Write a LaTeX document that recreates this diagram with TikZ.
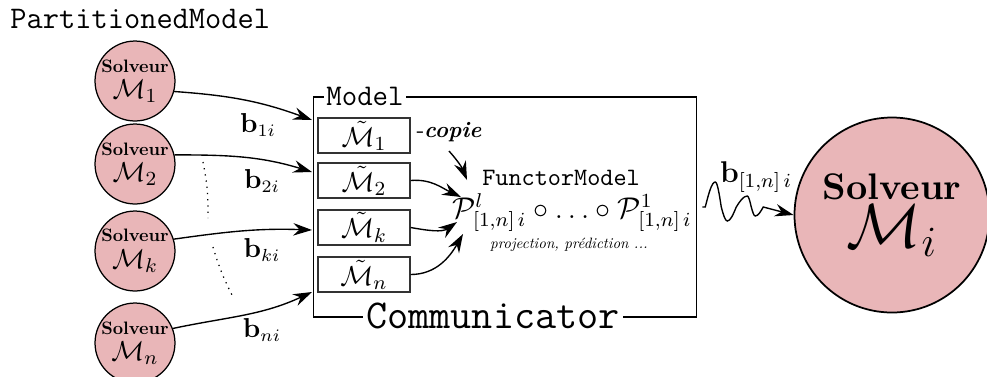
\documentclass[tikz,border=0pt]{standalone}
\usetikzlibrary{arrows.meta,calc}
\definecolor{solvfill}{RGB}{233,182,184}
\begin{document}
\begin{tikzpicture}[x=0.4pt,y=-0.4pt,
  solv/.style={circle,draw,fill=solvfill,line width=0.5pt,inner sep=0pt,minimum size=30.4pt,align=center},
  bigsolv/.style={circle,draw,fill=solvfill,line width=0.7pt,inner sep=0pt,minimum size=78pt,align=center},
  mbox/.style={draw=black!80,line width=0.5pt,minimum width=36.8pt,minimum height=14pt,inner sep=0pt},
  conn/.style={line width=0.55pt,-{Stealth[length=7.5pt,width=5pt,inset=2.5pt]}},
  blab/.style={font=\fontsize{10.5}{12}\selectfont},
  ttlab/.style={font=\ttfamily\fontsize{12}{14}\selectfont}]
\useasboundingbox (0,0) rectangle (987,376);
\newcommand{\solvsmall}[1]{\scalebox{0.72}{\bfseries Solveur}\\[-1.5pt]{\fontsize{11}{12}\selectfont$\mathcal{M}_{#1}$}}

% title
\node[font=\ttfamily\fontsize{12.6}{14}\selectfont, anchor=west, inner sep=0pt] (title) at (10,19) {PartitionedModel};

% solver circles
\node[solv] (m1) at (135,81) {\solvsmall{1}};
\node[solv] (m2) at (135,164) {\solvsmall{2}};
\node[solv] (mk) at (135,251) {\solvsmall{k}};
\node[solv] (mn) at (135,343) {\solvsmall{n}};

% main frame
\node[draw, line width=0.6pt, minimum width=153.2pt, minimum height=88pt, inner sep=0pt] (comm) at (505,207) {};
\node[ttlab, fill=white, inner sep=1pt] (modellab) at (365,96) {Model};
\node[font=\ttfamily\fontsize{16.4}{18}\selectfont, fill=white, inner sep=1.5pt] (commlab) at (493,316) {Communicator};

% inner model copies
\node[mbox] (t1) at (364,135.5) {\fontsize{11}{12}\selectfont$\tilde{\mathcal{M}}_1$};
\node[mbox] (t2) at (364,180.5) {\fontsize{11}{12}\selectfont$\tilde{\mathcal{M}}_2$};
\node[mbox] (tk) at (364,227.5) {\fontsize{11}{12}\selectfont$\tilde{\mathcal{M}}_k$};
\node[mbox] (tn) at (364,274.5) {\fontsize{11}{12}\selectfont$\tilde{\mathcal{M}}_n$};

% entry points on the frame
\coordinate (e1) at (312,120);
\coordinate (e2) at (312,172);
\coordinate (ek) at (312,230);
\coordinate (en) at (312,292);

\draw[conn] (m1.-15) to[out=-4,in=160] (e1);
\draw[conn] (m2.13) to[out=0,in=163] (e2);
\draw[conn] (mk.17) to[out=8,in=178] (ek);
\draw[conn] (mn.21) to[out=12,in=205] (en);

\node[blab] (b1) at (258,125) {$\mathbf{b}_{1i}$};
\node[blab] (b2) at (262,181) {$\mathbf{b}_{2i}$};
\node[blab] (bk) at (262,250) {$\mathbf{b}_{ki}$};
\node[blab] (bn) at (262,330) {$\mathbf{b}_{ni}$};

% dotted ellipsis arcs
\draw[dotted, line width=0.5pt] (203,162) to[bend left=6] (208,218);
\draw[dotted, line width=0.5pt] (213,247) to[bend right=5] (232,295);

% copie
\node[anchor=west, inner sep=0pt, font=\fontsize{9}{10}\selectfont] (copie) at (416,132) {-\textbf{\textit{copie}}};

% functor model
\node[font=\ttfamily\fontsize{10}{12}\selectfont, inner sep=0pt] (fm) at (561,178) {FunctorModel};
\node[inner sep=0pt, font=\fontsize{12}{14}\selectfont] (P) at (572,213) {$\mathcal{P}^{l}_{[1,n]\,i}\circ\ldots\circ\mathcal{P}^{1}_{[1,n]\,i}$};
\node[inner sep=0pt] (proj) at (569,245) {\scalebox{0.6}{\itshape projection, prédiction ...}};

\coordinate (cs) at (449,151);
\coordinate (pc) at (467,180);
\coordinate (p2) at (461,197);
\coordinate (pk) at (457,222);
\coordinate (pn) at (463,234);

\draw[conn] (cs) to[bend left=10] (pc);
\draw[conn] (t2.east) to[out=5,in=155] (p2);
\draw[conn] (tk.east) to[out=-10,in=215] (pk);
\draw[conn] (tn.east) to[out=0,in=240] (pn);

% big solver
\node[bigsolv] (mi) at (892,215) {\scalebox{1.48}{\bfseries Solveur}\\[1pt]{\fontsize{27}{28}\selectfont$\mathcal{M}_i$}};

% wavy link
\coordinate (w0) at ([xshift=2pt]comm.east);
\draw[conn] (w0) -- ++(3,0)
  sin ++(10,-25) cos ++(6,25) sin ++(6,14) cos ++(9,-14)
  sin ++(11,-11) cos ++(4,11) sin ++(4,9) cos ++(8,-9) -- (mi.west);
\node[font=\fontsize{11.5}{13}\selectfont] (bw) at (756,177) {$\mathbf{b}_{[1,n]\,i}$};

\end{tikzpicture}
\end{document}
